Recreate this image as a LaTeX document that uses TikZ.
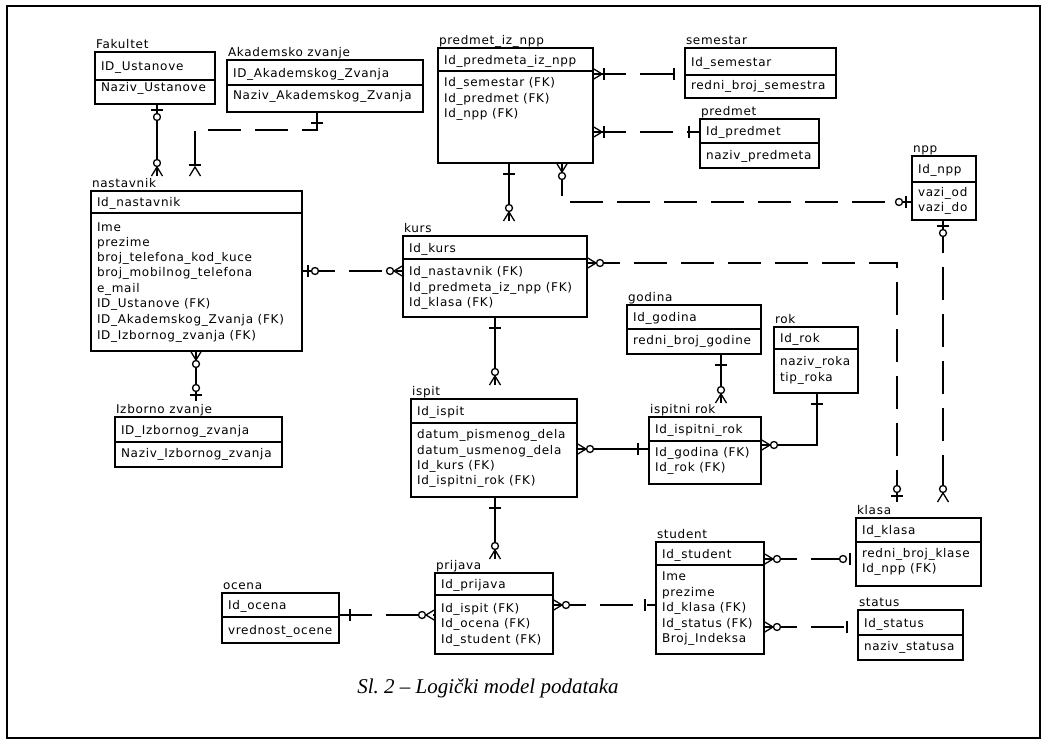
\documentclass[tikz,border=0pt]{standalone}
\usepackage{fontspec}
\setmainfont{Liberation Serif}
\newfontfamily\erf[LetterSpace=6]{DejaVu Sans}
\tikzset{
  ebox/.style={draw, line width=1.4pt, inner sep=0pt, outer sep=0pt, rectangle},
  eline/.style={line width=1.4pt},
  etext/.style={font=\erf\fontsize{12}{14}\selectfont, inner sep=0pt, outer sep=0pt},
  rel/.style={line width=1.3pt},
  nid/.style={rel, dash pattern=on 33pt off 14pt},
  sym/.style={line width=1.3pt},
  pics/one/.style={code={\draw[sym] (11,-6) -- (11,6);}},
  pics/zone/.style={code={\draw[sym] (6,-6) -- (6,6); \draw[sym,fill=white] (13,0) circle (3.5pt);}},
  pics/zmany/.style={code={\draw[sym] (0,-5.5) -- (9,0) -- (0,5.5); \draw[sym,fill=white] (13,0) circle (3.5pt);}},
  pics/omany/.style={code={\draw[sym] (0,-5.5) -- (9,0) -- (0,5.5); \draw[sym] (11,-6) -- (11,6);}},
}
% #1 name, #2 L, #3 T, #4 R, #5 separator, #6 B, #7 label, #8 key, #9 rows
\newcommand\ent[9]{%
  \node[ebox, anchor=north west, minimum width={(#4-#2)*1pt}, minimum height={(#6-#3)*1pt}] (#1) at (#2,#3) {};
  \draw[eline] (#2,#5) -- (#4,#5);
  \node[etext, anchor=base west] (#1-l) at (#2+1,#3-4) {#7};
  \node[etext, anchor=base west] (#1-h) at (#2+6,{(#3+#5)/2+4.5}) {#8};
  \foreach \rowy/\rowtxt [count=\i] in {#9} {\node[etext, anchor=base west] (#1-r\i) at (#2+6,\rowy+4.5) {\rowtxt};}%
}
\begin{document}
\begin{tikzpicture}[x=1pt,y=-1pt]
\useasboundingbox (0,0) rectangle (1047,744);
\draw[line width=1.3pt] (7,6) rectangle (1040,738);

\ent{fak}{95}{52}{215}{80}{104}{Fakultet}{ID\_Ustanove}{87/Naziv\_Ustanove}
\ent{akz}{227}{60}{423}{85}{112}{Akademsko zvanje}{ID\_Akademskog\_Zvanja}{95/Naziv\_Akademskog\_Zvanja}
\ent{pin}{438}{48}{593}{71}{163}{predmet\_iz\_npp}{Id\_predmeta\_iz\_npp}{82/Id\_semestar (FK),98/Id\_predmet (FK),113/Id\_npp (FK)}
\ent{sem}{685}{48}{836}{75}{98}{semestar}{Id\_semestar}{85/redni\_broj\_semestra}
\ent{pre}{700}{119}{819}{143}{168}{predmet}{Id\_predmet}{155/naziv\_predmeta}
\ent{npp}{912}{156}{976}{182}{220}{npp}{Id\_npp}{192/vazi\_od,207/vazi\_do}
\ent{nas}{91}{191}{302}{213}{351}{nastavnik}{Id\_nastavnik}{227/Ime,242/prezime,257/broj\_telefona\_kod\_kuce,272/broj\_mobilnog\_telefona,288/e\_mail,303/ID\_Ustanove (FK),319/ID\_Akademskog\_Zvanja (FK),335/ID\_Izbornog\_zvanja (FK)}
\ent{kurs}{403}{236}{587}{259}{317}{kurs}{Id\_kurs}{271/Id\_nastavnik (FK),287/Id\_predmeta\_iz\_npp (FK),302/Id\_klasa (FK)}
\ent{god}{627}{305}{761}{329}{354}{godina}{Id\_godina}{340/redni\_broj\_godine}
\ent{rok}{774}{327}{858}{349}{393}{rok}{Id\_rok}{361/naziv\_roka,377/tip\_roka}
\ent{isp}{411}{399}{577}{423}{497}{ispit}{Id\_ispit}{434/datum\_pismenog\_dela,450/datum\_usmenog\_dela,465/Id\_kurs (FK),480/Id\_ispitni\_rok (FK)}
\ent{irk}{649}{417}{761}{441}{484}{ispitni rok}{Id\_ispitni\_rok}{452/Id\_godina (FK),467/Id\_rok (FK)}
\ent{izb}{115}{417}{282}{442}{467}{Izborno zvanje}{ID\_Izbornog\_zvanja}{453/Naziv\_Izbornog\_zvanja}
\ent{kla}{856}{518}{981}{542}{586}{klasa}{Id\_klasa}{553/redni\_broj\_klase,568/Id\_npp (FK)}
\ent{stu}{656}{542}{764}{565}{654}{student}{Id\_student}{576/Ime,592/prezime,607/Id\_klasa (FK),623/Id\_status (FK),638/Broj\_Indeksa}
\ent{sta}{858}{610}{963}{635}{660}{status}{Id\_status}{646/naziv\_statusa}
\ent{oce}{222}{593}{339}{617}{643}{ocena}{Id\_ocena}{630/vrednost\_ocene}
\ent{pri}{435}{573}{553}{595}{654}{prijava}{Id\_prijava}{608/Id\_ispit (FK),623/Id\_ocena (FK),639/Id\_student (FK)}

% free ends above entity labels
\coordinate (c1) at (157,176);
\coordinate (c2) at (195,176);
\coordinate (c3) at (196,401);
\coordinate (c7) at (509,221);
\coordinate (c9) at (943,502);
\coordinate (c10) at (897,502);
\coordinate (c11) at (495,385);
\coordinate (c12) at (721,403);
\coordinate (c15) at (495,559);

% attachment points on boxes
\coordinate (s1) at ([xshift=62pt]fak.south west);
\coordinate (s2) at ([xshift=90pt]akz.south west);
\coordinate (s3) at ([xshift=105pt]nas.south west);
\coordinate (s4a) at ([yshift=-80pt]nas.north east);
\coordinate (s4b) at ([yshift=-35pt]kurs.north west);
\coordinate (s5a) at ([yshift=-26pt]pin.north east);
\coordinate (s5b) at ([yshift=-26pt]sem.north west);
\coordinate (s6a) at ([yshift=-84pt]pin.north east);
\coordinate (s6b) at ([yshift=-13pt]pre.north west);
\coordinate (s7) at ([xshift=71pt]pin.south west);
\coordinate (s8a) at ([xshift=124pt]pin.south west);
\coordinate (s8b) at ([yshift=-46pt]npp.north west);
\coordinate (s9) at ([xshift=31pt]npp.south west);
\coordinate (s10) at ([yshift=-27pt]kurs.north east);
\coordinate (s11) at ([xshift=92pt]kurs.south west);
\coordinate (s12) at ([xshift=94pt]god.south west);
\coordinate (s13a) at ([xshift=43pt]rok.south west);
\coordinate (s13b) at ([yshift=-28pt]irk.north east);
\coordinate (s14a) at ([yshift=-50pt]isp.north east);
\coordinate (s14b) at ([yshift=-32pt]irk.north west);
\coordinate (s15) at ([xshift=84pt]isp.south west);
\coordinate (s16a) at ([yshift=-22pt]oce.north east);
\coordinate (s16b) at ([yshift=-42pt]pri.north west);
\coordinate (s17a) at ([yshift=-32pt]pri.north east);
\coordinate (s17b) at ([yshift=-63pt]stu.north west);
\coordinate (s18a) at ([yshift=-17pt]stu.north east);
\coordinate (s18b) at ([yshift=-41pt]kla.north west);
\coordinate (s19a) at ([yshift=-85pt]stu.north east);
\coordinate (s19b) at ([yshift=-17pt]sta.north west);

% connectors
\draw[rel] (s1) -- (c1);
\draw[nid] (s2) -- ++(0,18) -| (c2);
\draw[rel] (s3) -- (c3);
\draw[nid] (s4a) -- (s4b);
\draw[nid] (s5a) -- (s5b);
\draw[nid] (s6a) -- (s6b);
\draw[rel] (s7) -- (c7);
\draw[nid] (s8a) |- (s8b);
\draw[nid] (s9) -- (c9);
\draw[nid] (s10) -| (c10);
\draw[rel] (s11) -- (c11);
\draw[rel] (s12) -- (c12);
\draw[rel] (s13a) |- (s13b);
\draw[rel] (s14a) -- (s14b);
\draw[rel] (s15) -- (c15);
\draw[nid] (s16a) -- (s16b);
\draw[nid] (s17a) -- (s17b);
\draw[nid] (s18a) -- (s18b);
\draw[nid] (s19a) -- (s19b);

% end symbols
\pic[rotate=-90] at (s1) {zone};   \pic[rotate=90] at (c1) {zmany};
\pic[rotate=-90] at (s2) {one};    \pic[rotate=90] at (c2) {omany};
\pic[rotate=-90] at (s3) {zmany};  \pic[rotate=90] at (c3) {zone};
\pic at (s4a) {zone};              \pic[rotate=180] at (s4b) {zmany};
\pic at (s5a) {omany};             \pic[rotate=180] at (s5b) {one};
\pic at (s6a) {omany};             \pic[rotate=180] at (s6b) {one};
\pic[rotate=-90] at (s7) {one};    \pic[rotate=90] at (c7) {zmany};
\pic[rotate=-90] at (s8a) {zmany}; \pic[rotate=180] at (s8b) {zone};
\pic[rotate=-90] at (s9) {zone};   \pic[rotate=90] at (c9) {zmany};
\pic at (s10) {zmany};             \pic[rotate=90] at (c10) {zone};
\pic[rotate=-90] at (s11) {one};   \pic[rotate=90] at (c11) {zmany};
\pic[rotate=-90] at (s12) {one};   \pic[rotate=90] at (c12) {zmany};
\pic[rotate=-90] at (s13a) {one};  \pic at (s13b) {zmany};
\pic at (s14a) {zmany};            \pic[rotate=180] at (s14b) {one};
\pic[rotate=-90] at (s15) {one};   \pic[rotate=90] at (c15) {zmany};
\pic at (s16a) {one};              \pic[rotate=180] at (s16b) {zmany};
\pic at (s17a) {zmany};            \pic[rotate=180] at (s17b) {one};
\pic at (s18a) {zmany};            \pic[rotate=180] at (s18b) {zone};
\pic at (s19a) {zmany};            \pic[rotate=180] at (s19b) {one};

\node[anchor=base, font=\fontsize{21}{24}\selectfont\itshape, inner sep=0pt] (cap) at (488,693) {Sl.~2 – Logički model podataka};
\end{tikzpicture}
\end{document}
